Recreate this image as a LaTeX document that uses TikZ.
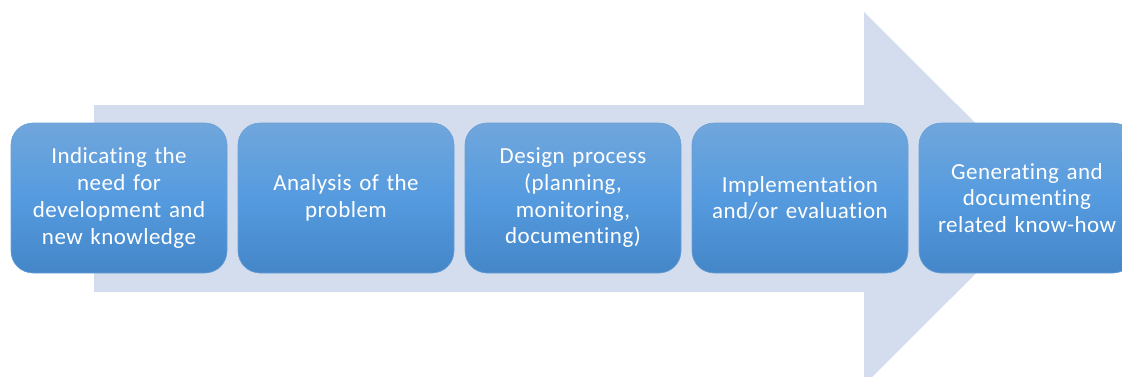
\documentclass[tikz,border=0pt]{standalone}
\usepackage{fontspec}
\setmainfont{Carlito}[LetterSpace=2,Ligatures=NoCommon]
\begin{document}
\begin{tikzpicture}[x=1pt,y=-1pt,
  stepbox/.style={rounded corners=22pt, minimum width=216pt, minimum height=150pt,
    top color=boxtop, bottom color=boxbot, middle color=boxmid, draw=boxedge, line width=0.6pt,
    text=white, font=\fontsize{23}{26.7}\selectfont, align=center, inner sep=0pt, text width=210pt}]
\definecolor{boxtop}{HTML}{70A6DC}
\definecolor{boxmid}{HTML}{559BDF}
\definecolor{boxbot}{HTML}{4486C8}
\definecolor{boxedge}{HTML}{6A9FD6}
\definecolor{arrowfill}{HTML}{D3DDEE}
\useasboundingbox (0,0) rectangle (1122,376);
\clip (0,0) rectangle (1122,376);
\fill[arrowfill] (94,105) -- (864,105) -- (864,12) -- (1051,198.5) -- (864,385) -- (864,292) -- (94,292) -- cycle;
\node[stepbox] (s1) at (119,198) {Indicating the\\need for\\development and\\new knowledge};
\node[stepbox] (s2) at (346,198) {Analysis of the\\problem};
\node[stepbox] (s3) at (573,198) {Design process\\(planning,\\monitoring,\\documenting)};
\node[stepbox] (s4) at (800,198) {Implementation\\and/or evaluation};
\node[stepbox] (s5) at (1027,198) {Generating and\\documenting\\related know-how};
\end{tikzpicture}
\end{document}
